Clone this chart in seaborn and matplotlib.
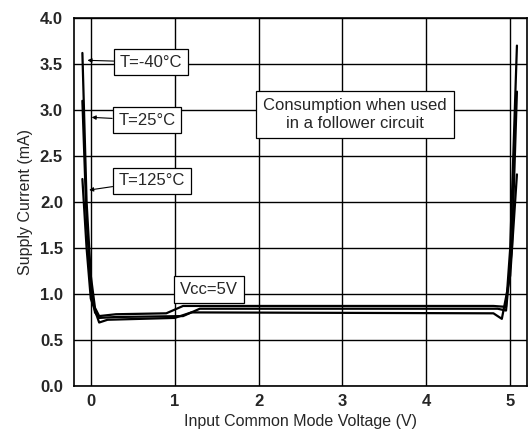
import seaborn as sns
import matplotlib.pyplot as plt
import pandas as pd

# curves (V, mA)
x_m40 = [-0.1, -0.05, 0.0, 0.05, 0.1, 0.3, 0.9, 1.1, 4.8, 4.95, 5.0, 5.08]
y_m40 = [3.62, 2.0, 1.2, 0.85, 0.76, 0.78, 0.79, 0.87, 0.87, 0.86, 1.5, 3.7]
x_25 = [-0.1, -0.05, 0.0, 0.05, 0.1, 0.3, 1.1, 1.3, 4.85, 4.95, 5.02, 5.08]
y_25 = [3.1, 1.8, 1.1, 0.8, 0.74, 0.75, 0.76, 0.84, 0.84, 0.82, 1.5, 3.2]
x_125 = [-0.1, -0.05, 0.0, 0.1, 0.2, 1.0, 1.2, 4.8, 4.9, 5.0, 5.08]
y_125 = [2.25, 1.5, 0.95, 0.69, 0.72, 0.74, 0.80, 0.79, 0.73, 1.2, 2.3]

labels = ["T=-40°C", "T=25°C", "T=125°C"]
xs = [x_m40, x_25, x_125]
ys = [y_m40, y_25, y_125]

rows = []
for lab, xv, yv in zip(labels, xs, ys):
    for a, b in zip(xv, yv):
        rows.append({"T": lab, "Vin": a, "Icc": b})
df = pd.DataFrame(rows)

sns.set_style("white")
plt.rcParams['font.family'] = ['Liberation Sans', 'DejaVu Sans']

fig = plt.figure(figsize=(5.3, 4.4), dpi=100)
ax = fig.add_axes([74 / 530, 1 - 386 / 440, 453 / 530, 368 / 440])

sns.lineplot(data=df, x="Vin", y="Icc", units="T", estimator=None, sort=False,
             color="black", linewidth=1.6, ax=ax)

ax.set_xlim(-0.2, 5.2)
ax.set_ylim(0, 4.0)
ax.set_xticks(range(6))
ax.set_yticks([i * 0.5 for i in range(9)])
ax.set_yticklabels([f"{i * 0.5:.1f}" for i in range(9)])
ax.grid(True, color="black", linewidth=1.0)
for s in ax.spines.values():
    s.set_color("black")
    s.set_linewidth(1.2)
ax.tick_params(direction="in", length=5, color="black", labelsize=12)
ax.tick_params(axis="y", pad=8)
ax.tick_params(axis="x", pad=6)
for t in ax.get_xticklabels() + ax.get_yticklabels():
    t.set_fontweight("bold")
ax.set_xlabel("Input Common Mode Voltage (V)", fontsize=11.5, labelpad=3)
ax.set_ylabel("Supply Current (mA)", fontsize=11.5, labelpad=5)

box = dict(boxstyle="square,pad=0.35", fc="white", ec="black", lw=0.9)
arrow = dict(arrowstyle="-|>", color="black", lw=0.8, mutation_scale=6, shrinkA=0, shrinkB=0)
tips = [(-0.04, 3.54), (0.01, 2.92), (-0.02, 2.13)]
spots = [(0.72, 3.52), (0.67, 2.89), (0.73, 2.23)]
for lab, tip, spot in zip(labels, tips, spots):
    ax.annotate(lab, xy=tip, xytext=spot, ha="center", va="center", fontsize=12,
                bbox=box, arrowprops=arrow)

ax.text(3.15, 2.95, "Consumption when used\nin a follower circuit", ha="center", va="center",
        fontsize=12, bbox=dict(boxstyle="square,pad=0.45", fc="white", ec="black", lw=0.9))
ax.text(1.41, 1.05, "Vcc=5V", ha="center", va="center", fontsize=12, bbox=box)

fig.savefig("out.png", dpi=100)
